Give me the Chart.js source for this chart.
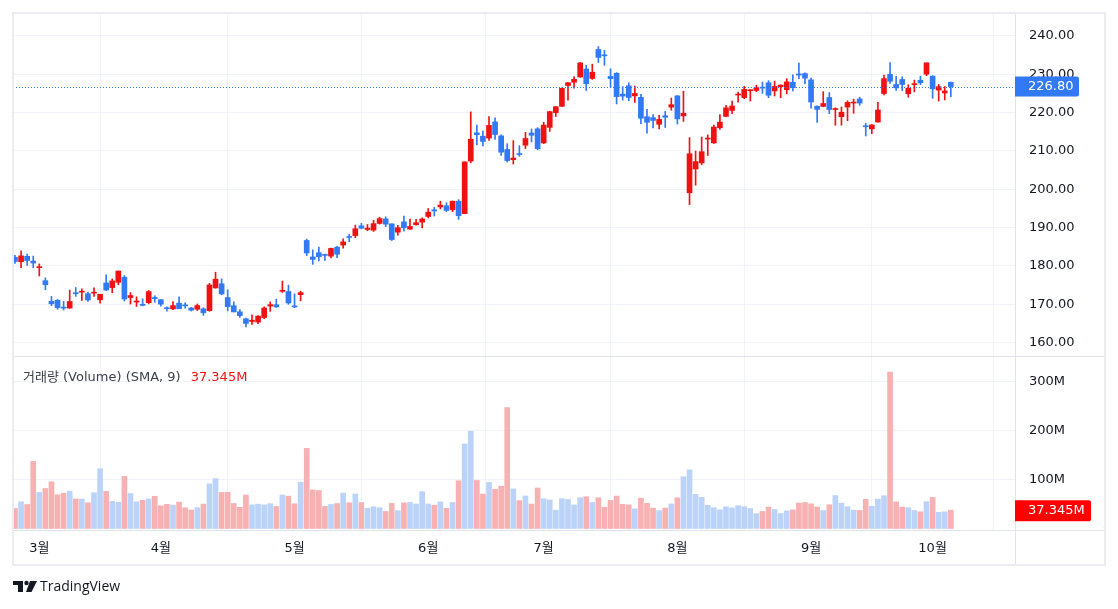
<!DOCTYPE html>
<html>
<head>
<meta charset="utf-8">
<script src="https://cdn.jsdelivr.net/npm/chart.js@4.4.1/dist/chart.umd.min.js"></script>
<style>
  body { margin: 0; background: #fff; }
  canvas { display: block; }
</style>
</head>
<body>
<canvas id="chart" width="1118" height="609"></canvas>
<script>
// 일봉 데이터 (2/26 ~ 10/4)
const dates = [
  '02-26','02-27','02-28','02-29',
  '03-01','03-04','03-05','03-06','03-07','03-08','03-11','03-12','03-13','03-14','03-15','03-18','03-19','03-20','03-21','03-22','03-25','03-26','03-27','03-28',
  '04-01','04-02','04-03','04-04','04-05','04-08','04-09','04-10','04-11','04-12','04-15','04-16','04-17','04-18','04-19','04-22','04-23','04-24','04-25','04-26','04-29','04-30',
  '05-01','05-02','05-03','05-06','05-07','05-08','05-09','05-10','05-13','05-14','05-15','05-16','05-17','05-20','05-21','05-22','05-23','05-24','05-28','05-29','05-30','05-31',
  '06-03','06-04','06-05','06-06','06-07','06-10','06-11','06-12','06-13','06-14','06-17','06-18','06-20','06-21','06-24','06-25','06-26','06-27','06-28',
  '07-01','07-02','07-03','07-05','07-08','07-09','07-10','07-11','07-12','07-15','07-16','07-17','07-18','07-19','07-22','07-23','07-24','07-25','07-26','07-29','07-30','07-31',
  '08-01','08-02','08-05','08-06','08-07','08-08','08-09','08-12','08-13','08-14','08-15','08-16','08-19','08-20','08-21','08-22','08-23','08-26','08-27','08-28','08-29','08-30',
  '09-03','09-04','09-05','09-06','09-09','09-10','09-11','09-12','09-13','09-16','09-17','09-18','09-19','09-20','09-23','09-24','09-25','09-26','09-27','09-30',
  '10-01','10-02','10-03','10-04'
];
const open = [
  182.24,181.10,182.51,181.27,
  179.55,176.15,170.76,171.06,169.15,169.00,172.94,173.15,172.77,172.91,171.17,175.57,174.34,175.72,177.05,171.76,170.57,170.00,170.41,171.75,
  171.19,169.08,168.79,170.29,169.59,169.03,168.70,168.80,168.34,174.26,175.36,171.75,169.61,168.03,166.21,165.52,165.35,166.54,169.53,169.88,173.37,173.33,
  169.58,172.51,186.65,182.35,183.45,182.85,182.56,184.90,185.44,187.51,187.91,190.47,189.51,189.33,191.09,192.27,190.98,188.82,191.51,189.61,190.76,191.44,
  192.90,194.64,195.40,195.69,194.65,196.90,193.65,207.37,214.74,213.85,213.37,217.59,213.93,210.39,207.72,209.15,211.50,214.69,215.77,
  212.09,216.15,220.00,221.65,227.09,227.93,229.30,231.39,228.92,236.48,235.00,229.45,230.28,224.82,227.01,224.37,224.00,218.93,218.70,216.96,219.19,221.44,
  224.37,219.15,199.09,205.30,206.90,213.11,212.10,216.07,219.01,220.57,224.60,223.92,225.72,225.77,226.52,227.79,225.66,226.76,226.00,227.92,230.10,230.19,
  228.55,221.66,221.63,223.95,220.82,218.92,221.46,222.50,223.58,216.54,215.75,217.55,224.99,229.97,227.34,228.65,224.93,227.30,228.46,230.04,
  229.52,225.89,225.14,227.90
];
const high = [
  182.76,183.92,183.12,182.57,
  180.53,176.90,172.04,171.24,170.73,173.70,174.38,174.03,173.19,174.31,172.62,177.71,176.61,178.67,177.49,173.05,171.94,171.42,173.60,172.23,
  171.25,169.34,170.68,171.92,170.39,169.20,170.08,169.09,175.46,178.36,176.63,173.76,170.65,168.64,166.40,167.26,167.05,169.30,170.61,171.34,176.03,174.99,
  172.71,173.42,187.00,184.20,184.90,183.07,184.66,185.09,187.10,188.30,190.65,191.10,190.81,191.92,192.73,192.82,191.00,190.58,193.00,192.25,192.18,192.57,
  194.99,195.32,196.90,196.50,196.94,197.30,207.16,220.20,216.75,215.17,218.95,218.63,214.24,211.89,212.70,211.38,214.86,215.74,216.07,
  217.51,220.38,221.55,226.45,227.85,229.40,233.08,232.39,232.64,237.23,236.27,231.46,230.44,226.80,227.78,226.94,224.80,220.85,219.49,219.30,220.33,223.82,
  224.48,225.60,213.50,209.99,213.64,214.20,216.78,219.51,221.89,223.03,225.35,226.83,225.99,227.17,227.98,228.34,228.22,227.28,228.85,229.86,232.92,230.40,
  229.00,221.78,225.48,225.24,221.27,221.48,223.09,223.55,224.04,217.22,216.90,222.71,229.82,233.09,229.45,229.35,227.29,228.50,229.52,233.00,
  229.65,227.37,226.81,228.00
];
const low = [
  180.65,179.56,180.13,179.53,
  177.38,173.79,169.62,168.68,168.49,168.94,172.05,171.01,170.76,172.05,170.29,173.52,173.03,175.09,170.84,170.06,169.45,169.58,170.11,170.51,
  169.48,168.23,168.58,168.82,168.95,168.24,168.35,167.11,168.16,174.21,172.50,168.27,168.00,166.55,164.08,164.77,164.92,166.21,168.15,169.18,173.10,170.00,
  169.11,170.89,182.66,180.42,181.32,181.45,182.11,182.13,184.62,186.29,187.37,189.66,189.18,189.01,190.92,190.27,186.63,188.04,189.10,189.51,190.63,189.91,
  192.52,193.03,194.87,194.17,194.14,192.15,193.63,206.90,211.60,211.30,212.72,213.00,208.85,207.11,206.59,208.61,210.64,212.35,210.30,
  211.92,215.10,219.03,221.65,223.25,226.37,229.25,225.77,228.68,233.09,232.33,226.64,222.27,223.28,223.09,222.68,217.13,214.62,216.01,215.75,216.12,220.63,
  217.02,217.71,196.00,201.07,206.39,208.83,211.97,215.60,219.01,219.70,222.76,223.65,223.04,225.45,225.05,223.90,224.33,223.89,224.89,225.68,228.88,227.48,
  221.17,217.48,221.52,219.77,216.71,216.73,217.89,219.82,221.91,213.92,214.50,217.54,224.63,227.62,225.81,225.73,224.02,225.41,227.30,229.65,
  223.74,223.02,223.32,224.13
];
const close = [
  181.16,182.63,181.42,180.75,
  179.66,175.10,170.12,169.12,169.00,170.73,172.75,173.23,171.13,173.00,172.62,173.72,176.08,178.67,171.37,172.28,170.85,169.71,173.31,171.48,
  170.03,168.84,169.65,168.82,169.58,168.45,169.67,167.78,175.04,176.55,172.69,169.38,168.00,167.04,165.00,165.84,166.90,169.02,169.89,169.30,173.50,170.33,
  169.30,173.03,183.38,181.71,182.40,182.74,184.57,183.05,186.28,187.43,189.72,189.84,189.87,191.04,192.35,190.90,186.88,189.98,189.99,190.29,191.29,192.25,
  194.03,194.35,195.87,194.48,196.89,193.12,207.15,213.07,214.24,212.49,216.67,214.29,209.68,207.49,208.14,209.07,213.25,214.10,210.62,
  216.75,220.27,221.55,226.34,227.82,228.68,232.98,227.57,230.54,234.40,234.82,228.88,224.18,224.31,223.96,225.01,218.54,217.49,217.96,218.24,218.80,222.08,
  218.36,219.86,209.27,207.23,209.82,213.31,216.24,217.53,221.27,221.72,224.72,226.05,225.89,226.51,226.40,224.53,226.84,227.18,228.03,226.49,229.79,229.00,
  222.77,220.85,222.38,220.82,220.91,220.11,222.66,222.77,222.50,216.32,216.79,220.69,228.87,228.20,226.47,227.37,226.37,227.52,227.79,233.00,
  226.21,226.78,225.67,226.80
];
// 거래량 (백만)
const volume = [
  40.87,54.32,48.95,136.68,
  73.49,81.51,95.13,68.59,71.77,76.11,60.14,59.83,52.49,72.91,121.75,75.60,55.22,53.42,106.18,71.16,54.29,57.39,60.27,65.67,
  46.24,49.33,47.69,53.70,42.06,37.43,42.45,49.71,91.07,101.59,73.53,73.71,50.90,43.12,68.15,48.12,49.54,48.25,50.56,44.84,68.17,65.93,
  50.38,94.21,163.22,78.57,77.31,45.06,48.98,50.76,72.04,52.39,70.40,52.85,41.28,44.36,42.31,34.65,51.01,36.29,52.28,53.07,49.95,75.16,
  50.08,47.47,54.16,41.18,53.10,97.26,172.37,198.13,97.86,70.12,93.73,79.94,86.17,246.42,80.73,56.71,66.21,49.77,82.54,
  60.40,58.05,37.37,60.41,59.09,48.08,62.63,64.71,53.05,62.63,43.23,57.35,66.03,49.15,48.20,39.96,61.78,51.39,41.60,36.31,41.64,50.04,
  62.50,105.57,119.55,69.35,63.52,47.16,42.20,38.03,44.16,41.96,46.41,44.34,40.69,30.30,34.77,43.70,38.68,30.60,35.93,38.05,51.91,52.99,
  50.19,43.84,36.62,48.42,67.18,51.59,44.59,37.50,36.77,59.36,45.52,59.89,66.78,318.68,54.15,43.56,42.31,36.64,34.03,54.79,
  63.29,32.88,34.04,37.345
];
const monthLabels = ['3월', '4월', '5월', '6월', '7월', '8월', '9월', '10월'];
const priceTicks = [160, 170, 180, 190, 200, 210, 220, 230, 240];
const volumeTicks = [100, 200, 300];

// 월이 바뀌는 첫 거래일 인덱스
const monthIdx = [];
dates.forEach((d, i) => {
  if (i > 0 && d.slice(0, 2) !== dates[i - 1].slice(0, 2)) monthIdx.push(i);
});

const RED = '#f01212';
const BLUE = '#3179f5';
const isUp = close.map((c, i) => c >= open[i]);
const candleColor = isUp.map(u => u ? RED : BLUE);
const volColor = isUp.map(u => u ? '#bcd3f9' : '#f8b1b2');

const lastClose = close[close.length - 1];
const lastVol = volume[volume.length - 1];

const FONT = '"DejaVu Sans", "Noto Sans CJK KR", sans-serif';
const TEXT = '#131722';
const GRID = '#f0f3fa';
const LINE = '#e0e3eb';

const overlay = {
  id: 'overlay',
  afterDatasetsDraw(chart) {
    const { ctx, chartArea: a, scales } = chart;
    // 현재가 점선
    const py = Math.round(scales.y.getPixelForValue(lastClose)) + 0.5;
    ctx.save();
    ctx.strokeStyle = BLUE;
    ctx.lineWidth = 1;
    ctx.setLineDash([1, 2]);
    ctx.beginPath();
    ctx.moveTo(a.left, py);
    ctx.lineTo(a.right, py);
    ctx.stroke();
    ctx.restore();
  },
  afterDraw(chart) {
    const { ctx, chartArea: a, scales } = chart;
    ctx.save();
    // 패널 구분선
    ctx.strokeStyle = LINE;
    ctx.lineWidth = 1;
    const sep = Math.round(scales.yv.top) + 0.5;
    ctx.beginPath();
    ctx.moveTo(a.left, sep); ctx.lineTo(1105, sep);
    ctx.moveTo(a.right, a.bottom + 0.5); ctx.lineTo(1105, a.bottom + 0.5);
    ctx.moveTo(a.right + 0.5, a.bottom); ctx.lineTo(a.right + 0.5, 565);
    ctx.stroke();
    // 바깥 테두리
    ctx.strokeStyle = '#ebecf1';
    ctx.lineWidth = 2;
    ctx.strokeRect(13, 13, 1092, 552);

    // 현재가 라벨
    const py = scales.y.getPixelForValue(lastClose);
    ctx.fillStyle = BLUE;
    ctx.beginPath();
    ctx.roundRect(a.right, py - 10, 64, 20, [0, 2, 2, 0]);
    ctx.fill();
    ctx.font = '13px ' + FONT;
    ctx.textBaseline = 'middle';
    ctx.fillStyle = '#fff';
    ctx.fillText(lastClose.toFixed(2), a.right + 13, py + 0.5);

    // 거래량 라벨
    const vy = scales.yv.getPixelForValue(lastVol);
    ctx.fillStyle = '#ff0000';
    ctx.beginPath();
    ctx.roundRect(a.right, vy - 10, 76, 21, [0, 2, 2, 0]);
    ctx.fill();
    ctx.fillStyle = '#fff';
    ctx.fillText(lastVol.toFixed(3) + 'M', a.right + 13, vy + 0.5);

    // 거래량 범례
    ctx.fillStyle = '#3b3f4b';
    const legend = '거래량 (Volume) (SMA, 9)';
    ctx.fillText(legend, 23, scales.yv.top + 22);
    ctx.fillStyle = '#f01212';
    ctx.fillText(lastVol.toFixed(3) + 'M', 23 + ctx.measureText(legend).width + 10, scales.yv.top + 22);

    // TradingView 로고
    ctx.fillStyle = TEXT;
    ctx.fillRect(13, 581, 10, 4);
    ctx.fillRect(18, 581, 5, 11);
    ctx.beginPath();
    ctx.arc(26.5, 583, 2.2, 0, Math.PI * 2);
    ctx.fill();
    ctx.beginPath();
    ctx.moveTo(30, 581); ctx.lineTo(37, 581); ctx.lineTo(31.5, 592); ctx.lineTo(26, 592);
    ctx.closePath();
    ctx.fill();
    ctx.font = '14px "Open Sans", "DejaVu Sans", sans-serif';
    ctx.fillText('TradingView', 40, 587);
    ctx.restore();
  }
};

const candles = dates.map((d, i) => ({ x: i, y: [open[i], close[i]] }));
const wicks = dates.map((d, i) => ({ x: i, y: [low[i], high[i]] }));
const vols = dates.map((d, i) => ({ x: i, y: volume[i] }));

const yTicks = {
  padding: 0, color: TEXT, font: { size: 13, family: FONT }
};
const yGrid = { color: GRID, drawTicks: true, tickLength: 14, tickColor: 'rgba(0,0,0,0)' };

new Chart(document.getElementById('chart'), {
  type: 'bar',
  data: {
    datasets: [
      {
        label: 'body', data: candles, yAxisID: 'y', order: 1,
        backgroundColor: candleColor, barThickness: 5, minBarLength: 1, grouped: false
      },
      {
        label: 'wick', data: wicks, yAxisID: 'y', order: 2,
        backgroundColor: candleColor, barThickness: 1, grouped: false
      },
      {
        label: 'volume', data: vols, yAxisID: 'yv', order: 3,
        backgroundColor: volColor, barThickness: 5, grouped: false
      }
    ]
  },
  options: {
    responsive: false,
    animation: false,
    layout: { padding: { left: 13, top: 13, right: 13, bottom: 44 } },
    plugins: { legend: { display: false }, tooltip: { enabled: false } },
    scales: {
      x: {
        type: 'linear',
        offset: false,
        min: -0.33,
        max: 164.56,
        afterBuildTicks: s => { s.ticks = monthIdx.map(v => ({ value: v })); },
        afterFit: s => { s.height = 35; },
        ticks: {
          callback: v => monthLabels[monthIdx.indexOf(v)] || '',
          autoSkip: false, maxRotation: 0, padding: 11,
          color: TEXT, font: { size: 13, family: FONT }
        },
        grid: { color: GRID, drawTicks: false },
        border: { color: LINE }
      },
      y: {
        position: 'right',
        stack: 'pane',
        stackWeight: 343,
        min: 156.5,
        max: 246.0,
        afterBuildTicks: s => { s.ticks = priceTicks.map(v => ({ value: v })); },
        afterFit: s => { s.width = 90; s.paddingTop = 0; s.paddingBottom = 0; },
        ticks: Object.assign({ callback: v => v.toFixed(2) }, yTicks),
        grid: yGrid,
        border: { color: LINE }
      },
      yv: {
        position: 'right',
        stack: 'pane',
        stackWeight: 174,
        min: -3.09,
        max: 351.5,
        afterBuildTicks: s => { s.ticks = volumeTicks.map(v => ({ value: v })); },
        afterFit: s => { s.width = 90; s.paddingTop = 0; s.paddingBottom = 0; },
        ticks: Object.assign({ callback: v => v + 'M' }, yTicks),
        grid: yGrid,
        border: { color: LINE }
      }
    }
  },
  plugins: [overlay]
});
</script>
</body>
</html>
